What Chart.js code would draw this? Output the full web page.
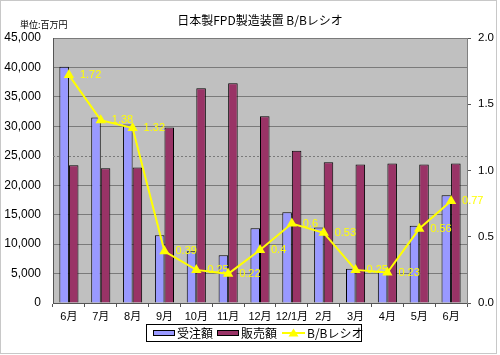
<!DOCTYPE html>
<html>
<head>
<meta charset="utf-8">
<script src="https://cdn.jsdelivr.net/npm/chart.js@4.4.1/dist/chart.umd.min.js"></script>
<style>
html,body{margin:0;padding:0;background:#fff;}
#wrap{width:500px;height:355px;position:relative;}
</style>
</head>
<body>
<div id="wrap"><canvas id="c" width="500" height="355"></canvas></div>
<script>
const chartTitle = '日本製FPD製造装置 B/Bレシオ';
const unitLabel = '単位:百万円';
const categories = ['6月','7月','8月','9月','10月','11月','12月','12/1月','2月','3月','4月','5月','6月'];
const seriesNames = ['受注額','販売額','B/Bレシオ'];
const orders = [40100, 31500, 30300, 11500, 8800, 8100, 12700, 15400, 12800, 5800, 5400, 13100, 18300];
const sales  = [23400, 22900, 23000, 29800, 36450, 37300, 31700, 25850, 23900, 23500, 23700, 23500, 23700];
const ratio  = [1.72, 1.38, 1.32, 0.39, 0.25, 0.22, 0.4, 0.6, 0.53, 0.25, 0.23, 0.56, 0.77];
const leftTicks = [0, 5000, 10000, 15000, 20000, 25000, 30000, 35000, 40000, 45000];
const rightTicks = [0, 0.5, 1.0, 1.5, 2.0];

const LAT = "'Liberation Sans', 'Noto Sans CJK JP', sans-serif";
const JP = "'Noto Sans CJK JP', 'Liberation Sans', sans-serif";
const BLUE = '#9999ff', MAROON = '#993366', YELLOW = '#ffff00', GRID = '#7a7a7a';

const decorPlugin = {
  id: 'decor',
  beforeDraw(chart) {
    const ctx = chart.ctx, a = chart.chartArea;
    ctx.save();
    ctx.fillStyle = '#ffffff';
    ctx.fillRect(0, 0, chart.width, chart.height);
    ctx.strokeStyle = '#c8c8c8';
    ctx.lineWidth = 1;
    ctx.strokeRect(0.5, 0.5, 496, 353);
    ctx.fillStyle = '#c0c0c0';
    ctx.fillRect(a.left, a.top, a.right - a.left, a.bottom - a.top);
    ctx.restore();
  },
  beforeDatasetsDraw(chart) {
    // dotted gridline at 25,000
    const ctx = chart.ctx, a = chart.chartArea, y = chart.scales.y;
    const py = Math.round(y.getPixelForValue(25000)) + 0.5;
    ctx.save();
    ctx.strokeStyle = GRID;
    ctx.lineWidth = 1;
    ctx.setLineDash([2, 2]);
    ctx.beginPath();
    ctx.moveTo(a.left, py);
    ctx.lineTo(a.right, py);
    ctx.stroke();
    ctx.restore();
  },
  beforeDatasetDraw(chart, args) {
    if (args.index !== 2) return;
    const ctx = chart.ctx, meta = chart.getDatasetMeta(2);
    ctx.save();
    ctx.fillStyle = YELLOW;
    ctx.font = "11px " + LAT;
    ctx.textAlign = 'left';
    ctx.textBaseline = 'middle';
    meta.data.forEach((pt, i) => {
      ctx.fillText(String(ratio[i]), pt.x + 11, pt.y);
    });
    ctx.restore();
  },
  afterDraw(chart) {
    const ctx = chart.ctx;
    ctx.save();
    // title
    ctx.fillStyle = '#000';
    ctx.font = "12px " + JP;
    ctx.textAlign = 'center';
    ctx.textBaseline = 'middle';
    ctx.fillText(chartTitle, (chart.chartArea.left + chart.chartArea.right) / 2, 20);
    // unit
    ctx.font = "9px " + JP;
    ctx.textAlign = 'left';
    ctx.fillText(unitLabel, 20, 25);
    // legend
    const lx = 146, ly = 324, lw = 216, lh = 18, cy = ly + lh / 2;
    ctx.fillStyle = '#fff';
    ctx.fillRect(lx, ly, lw, lh);
    ctx.strokeStyle = '#000';
    ctx.lineWidth = 1;
    ctx.strokeRect(lx + 0.5, ly + 0.5, lw - 1, lh - 1);
    ctx.font = "12px " + JP;
    ctx.textBaseline = 'middle';
    const ds = chart.data.datasets;
    // bar swatches
    const sw = [[153, ds[0]], [217, ds[1]]];
    sw.forEach(([x, d]) => {
      ctx.fillStyle = d.backgroundColor;
      ctx.fillRect(x, cy - 3, 22, 6);
      ctx.strokeStyle = '#000';
      ctx.strokeRect(x + 0.5, cy - 2.5, 21, 5);
      ctx.fillStyle = '#000';
      ctx.fillText(d.label, x + 24, cy + 0.5);
    });
    // line swatch
    ctx.strokeStyle = YELLOW;
    ctx.lineWidth = 2;
    ctx.beginPath();
    ctx.moveTo(282, cy);
    ctx.lineTo(305, cy);
    ctx.stroke();
    ctx.fillStyle = YELLOW;
    ctx.beginPath();
    ctx.moveTo(293.5, cy - 4.5);
    ctx.lineTo(298.5, cy + 3.5);
    ctx.lineTo(288.5, cy + 3.5);
    ctx.closePath();
    ctx.fill();
    ctx.fillStyle = '#000';
    ctx.fillText(ds[2].label, 307, cy + 0.5);
    ctx.restore();
  }
};

new Chart(document.getElementById('c'), {
  data: {
    labels: categories,
    datasets: [
      { type: 'bar', label: seriesNames[0], data: orders, backgroundColor: BLUE, borderColor: '#000', borderWidth: 1, yAxisID: 'y', order: 1 },
      { type: 'bar', label: seriesNames[1], data: sales, backgroundColor: MAROON, borderColor: '#000', borderWidth: 1, yAxisID: 'y', order: 1 },
      { type: 'line', label: seriesNames[2], data: ratio, borderColor: YELLOW, backgroundColor: YELLOW, borderWidth: 2,
        pointStyle: 'triangle', pointRadius: 6, pointBorderWidth: 0, pointBackgroundColor: YELLOW, pointBorderColor: YELLOW,
        tension: 0, yAxisID: 'y1', order: 0 }
    ]
  },
  options: {
    responsive: false,
    animation: false,
    devicePixelRatio: 1,
    layout: { padding: { top: 38, bottom: 30, left: 0, right: 0 } },
    datasets: { bar: { barPercentage: 1.0, categoryPercentage: 0.6 } },
    plugins: { legend: { display: false }, title: { display: false }, tooltip: { enabled: false } },
    scales: {
      x: {
        type: 'category',
        offset: true,
        grid: { display: true, drawOnChartArea: false, offset: true, tickLength: 4, color: '#555' },
        border: { display: true, color: '#555' },
        ticks: { color: '#000', font: { family: LAT, size: 11 }, padding: 3, maxRotation: 0, autoSkip: false },
        afterFit(s) { s.height = 22; }
      },
      y: {
        position: 'left',
        min: 0, max: 45000,
        afterBuildTicks(s) { s.ticks = leftTicks.map(v => ({ value: v })); },
        grid: {
          drawTicks: false,
          color: ctx => (ctx.tick && ctx.tick.value === 25000) ? 'rgba(0,0,0,0)' : GRID
        },
        border: { display: true, color: '#555' },
        ticks: { color: '#000', padding: 12, font: { family: LAT, size: 12 },
          callback: v => Number(v).toLocaleString('en-US') },
        afterFit(s) { s.width = 53; }
      },
      y1: {
        position: 'right',
        min: 0, max: 2,
        afterBuildTicks(s) { s.ticks = rightTicks.map(v => ({ value: v })); },
        grid: { drawOnChartArea: false, tickLength: 4, color: '#555' },
        border: { display: true, color: '#808080' },
        ticks: { color: '#000', padding: 7, font: { family: LAT, size: 11.5 },
          callback: v => Number(v).toFixed(1) },
        afterFit(s) { s.width = 33; }
      }
    }
  },
  plugins: [decorPlugin]
});
</script>
</body>
</html>
